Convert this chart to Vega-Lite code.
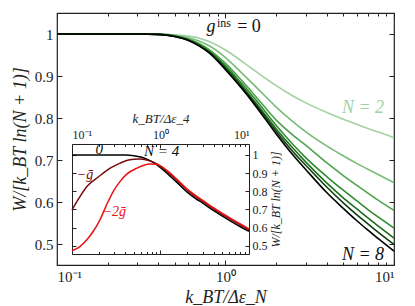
{
  "$schema": "https://vega.github.io/schema/vega-lite/v6.json",
  "width": 337,
  "height": 252,
  "autosize": "none",
  "padding": {"left": 57, "top": 13, "right": 21, "bottom": 41},
  "background": "white",
  "config": {
    "view": {"stroke": "#222", "strokeWidth": 1.2},
    "font": "Liberation Serif",
    "text": {"font": "Liberation Serif"},
    "axis": {"domainColor": "#222", "tickColor": "#222", "labelColor": "#222", "titleColor": "#222", "labelFont": "Liberation Serif", "titleFont": "Liberation Serif", "titleFontWeight": "normal", "grid": false, "tickWidth": 1}
  },
  "datasets": {
    "main": [
      {"N":"2","x":0.1,"w":1},{"N":"2","x":0.2,"w":1},{"N":"2","x":0.3,"w":1},{"N":"2","x":0.4,"w":1},{"N":"2","x":0.5,"w":0.998},{"N":"2","x":0.6,"w":0.995},{"N":"2","x":0.7,"w":0.99},{"N":"2","x":0.8,"w":0.982},{"N":"2","x":1,"w":0.962},{"N":"2","x":1.25,"w":0.935},{"N":"2","x":1.5,"w":0.912},{"N":"2","x":2,"w":0.877},{"N":"2","x":2.5,"w":0.853},{"N":"2","x":3,"w":0.836},{"N":"2","x":4,"w":0.813},{"N":"2","x":5,"w":0.797},{"N":"2","x":6,"w":0.785},{"N":"2","x":7,"w":0.775},{"N":"2","x":8,"w":0.767},{"N":"2","x":10,"w":0.753},
      {"N":"3","x":0.1,"w":1},{"N":"3","x":0.2,"w":1},{"N":"3","x":0.3,"w":1},{"N":"3","x":0.4,"w":0.9995},{"N":"3","x":0.5,"w":0.997},{"N":"3","x":0.6,"w":0.991},{"N":"3","x":0.7,"w":0.983},{"N":"3","x":0.8,"w":0.972},{"N":"3","x":1,"w":0.944},{"N":"3","x":1.25,"w":0.907},{"N":"3","x":1.5,"w":0.876},{"N":"3","x":2,"w":0.826},{"N":"3","x":2.5,"w":0.792},{"N":"3","x":3,"w":0.767},{"N":"3","x":4,"w":0.733},{"N":"3","x":5,"w":0.71},{"N":"3","x":6,"w":0.692},{"N":"3","x":7,"w":0.678},{"N":"3","x":8,"w":0.666},{"N":"3","x":10,"w":0.646},
      {"N":"4","x":0.1,"w":1},{"N":"4","x":0.2,"w":1},{"N":"4","x":0.3,"w":1},{"N":"4","x":0.4,"w":0.999},{"N":"4","x":0.5,"w":0.995},{"N":"4","x":0.6,"w":0.988},{"N":"4","x":0.7,"w":0.977},{"N":"4","x":0.8,"w":0.963},{"N":"4","x":1,"w":0.93},{"N":"4","x":1.25,"w":0.889},{"N":"4","x":1.5,"w":0.853},{"N":"4","x":2,"w":0.795},{"N":"4","x":2.5,"w":0.76},{"N":"4","x":3,"w":0.735},{"N":"4","x":4,"w":0.693},{"N":"4","x":5,"w":0.663},{"N":"4","x":6,"w":0.64},{"N":"4","x":7,"w":0.621},{"N":"4","x":8,"w":0.605},{"N":"4","x":10,"w":0.58},
      {"N":"5","x":0.1,"w":1},{"N":"5","x":0.2,"w":1},{"N":"5","x":0.3,"w":1},{"N":"5","x":0.4,"w":0.999},{"N":"5","x":0.5,"w":0.995},{"N":"5","x":0.6,"w":0.987},{"N":"5","x":0.7,"w":0.975},{"N":"5","x":0.8,"w":0.96},{"N":"5","x":1,"w":0.925},{"N":"5","x":1.25,"w":0.882},{"N":"5","x":1.5,"w":0.845},{"N":"5","x":2,"w":0.782},{"N":"5","x":2.5,"w":0.738},{"N":"5","x":3,"w":0.705},{"N":"5","x":4,"w":0.66},{"N":"5","x":5,"w":0.628},{"N":"5","x":6,"w":0.603},{"N":"5","x":7,"w":0.582},{"N":"5","x":8,"w":0.565},{"N":"5","x":10,"w":0.538},
      {"N":"6","x":0.1,"w":1},{"N":"6","x":0.2,"w":1},{"N":"6","x":0.3,"w":1},{"N":"6","x":0.4,"w":0.999},{"N":"6","x":0.5,"w":0.995},{"N":"6","x":0.6,"w":0.986},{"N":"6","x":0.7,"w":0.973},{"N":"6","x":0.8,"w":0.958},{"N":"6","x":1,"w":0.921},{"N":"6","x":1.25,"w":0.877},{"N":"6","x":1.5,"w":0.838},{"N":"6","x":2,"w":0.774},{"N":"6","x":2.5,"w":0.729},{"N":"6","x":3,"w":0.695},{"N":"6","x":4,"w":0.645},{"N":"6","x":5,"w":0.61},{"N":"6","x":6,"w":0.584},{"N":"6","x":7,"w":0.562},{"N":"6","x":8,"w":0.544},{"N":"6","x":10,"w":0.514},
      {"N":"7","x":0.1,"w":1},{"N":"7","x":0.2,"w":1},{"N":"7","x":0.3,"w":1},{"N":"7","x":0.4,"w":0.999},{"N":"7","x":0.5,"w":0.994},{"N":"7","x":0.6,"w":0.985},{"N":"7","x":0.7,"w":0.972},{"N":"7","x":0.8,"w":0.956},{"N":"7","x":1,"w":0.918},{"N":"7","x":1.25,"w":0.873},{"N":"7","x":1.5,"w":0.834},{"N":"7","x":2,"w":0.768},{"N":"7","x":2.5,"w":0.721},{"N":"7","x":3,"w":0.687},{"N":"7","x":4,"w":0.635},{"N":"7","x":5,"w":0.598},{"N":"7","x":6,"w":0.57},{"N":"7","x":7,"w":0.548},{"N":"7","x":8,"w":0.529},{"N":"7","x":10,"w":0.499},
      {"N":"8","x":0.1,"w":1},{"N":"8","x":0.2,"w":1},{"N":"8","x":0.3,"w":1},{"N":"8","x":0.4,"w":0.999},{"N":"8","x":0.5,"w":0.994},{"N":"8","x":0.6,"w":0.985},{"N":"8","x":0.7,"w":0.971},{"N":"8","x":0.8,"w":0.955},{"N":"8","x":1,"w":0.915},{"N":"8","x":1.25,"w":0.87},{"N":"8","x":1.5,"w":0.83},{"N":"8","x":2,"w":0.762},{"N":"8","x":2.5,"w":0.713},{"N":"8","x":3,"w":0.677},{"N":"8","x":4,"w":0.622},{"N":"8","x":5,"w":0.585},{"N":"8","x":6,"w":0.556},{"N":"8","x":7,"w":0.533},{"N":"8","x":8,"w":0.514},{"N":"8","x":10,"w":0.483}
    ],
    "inset": [
      {"g":"0","x":0.1,"w":1},{"g":"0","x":0.2,"w":1},{"g":"0","x":0.3,"w":1},{"g":"0","x":0.4,"w":0.999},{"g":"0","x":0.5,"w":0.995},{"g":"0","x":0.6,"w":0.988},{"g":"0","x":0.7,"w":0.977},{"g":"0","x":0.8,"w":0.963},{"g":"0","x":1,"w":0.93},{"g":"0","x":1.25,"w":0.889},{"g":"0","x":1.5,"w":0.853},{"g":"0","x":2,"w":0.795},{"g":"0","x":2.5,"w":0.76},{"g":"0","x":3,"w":0.735},{"g":"0","x":4,"w":0.693},{"g":"0","x":5,"w":0.663},{"g":"0","x":6,"w":0.64},{"g":"0","x":7,"w":0.621},{"g":"0","x":8,"w":0.605},{"g":"0","x":10,"w":0.58},
      {"g":"-1","x":0.1,"w":0.698},{"g":"-1","x":0.123,"w":0.771},{"g":"-1","x":0.15,"w":0.83},{"g":"-1","x":0.2,"w":0.88},{"g":"-1","x":0.27,"w":0.927},{"g":"-1","x":0.35,"w":0.955},{"g":"-1","x":0.415,"w":0.969},{"g":"-1","x":0.5,"w":0.976},{"g":"-1","x":0.586,"w":0.978},{"g":"-1","x":0.7,"w":0.972},{"g":"-1","x":0.83,"w":0.96},{"g":"-1","x":1,"w":0.938},{"g":"-1","x":1.25,"w":0.9},{"g":"-1","x":1.5,"w":0.864},{"g":"-1","x":2,"w":0.806},{"g":"-1","x":2.5,"w":0.77},{"g":"-1","x":3,"w":0.744},{"g":"-1","x":4,"w":0.702},{"g":"-1","x":5,"w":0.672},{"g":"-1","x":6,"w":0.649},{"g":"-1","x":7,"w":0.63},{"g":"-1","x":8,"w":0.614},{"g":"-1","x":10,"w":0.588},
      {"g":"-2","x":0.1,"w":0.473},{"g":"-2","x":0.123,"w":0.496},{"g":"-2","x":0.147,"w":0.533},{"g":"-2","x":0.174,"w":0.58},{"g":"-2","x":0.207,"w":0.643},{"g":"-2","x":0.246,"w":0.725},{"g":"-2","x":0.293,"w":0.8},{"g":"-2","x":0.348,"w":0.853},{"g":"-2","x":0.415,"w":0.894},{"g":"-2","x":0.54,"w":0.927},{"g":"-2","x":0.76,"w":0.95},{"g":"-2","x":0.9,"w":0.948},{"g":"-2","x":1,"w":0.94},{"g":"-2","x":1.25,"w":0.905},{"g":"-2","x":1.5,"w":0.87},{"g":"-2","x":2,"w":0.812},{"g":"-2","x":2.5,"w":0.776},{"g":"-2","x":3,"w":0.75},{"g":"-2","x":4,"w":0.708},{"g":"-2","x":5,"w":0.678},{"g":"-2","x":6,"w":0.655},{"g":"-2","x":7,"w":0.636},{"g":"-2","x":8,"w":0.62},{"g":"-2","x":10,"w":0.593}
    ],
    "notesBig": [
      {"label":"g","x":0.82,"w":1.016},
      {"label":"N = 8","x":6.55,"w":0.4745}
    ],
    "notesUpright": [
      {"label":"= 0","x":1.379,"w":1.016}
    ],
    "notesSup": [
      {"label":"ins","x":0.98,"w":1.027}
    ],
    "notesGreen": [
      {"label":"N = 2","x":6.55,"w":0.825}
    ],
    "insetBlack": [
      {"label":"0","x":0.203,"w":1.033},
      {"label":"N = 4","x":1.03,"w":1.024}
    ],
    "insetDark": [
      {"label":"−ḡ","x":0.14,"w":0.89}
    ],
    "insetRed": [
      {"label":"−2ḡ","x":0.3,"w":0.688}
    ]
  },
  "resolve": {
    "scale": {"x": "independent", "y": "independent", "color": "independent"},
    "axis": {"x": "independent", "y": "independent"}
  },
  "layer": [
    {
      "data": {"name": "main"},
      "mark": {"type": "line", "strokeWidth": 1.6, "interpolate": "monotone"},
      "encoding": {
        "x": {"field": "x", "type": "quantitative", "scale": {"type": "log", "domain": [0.1, 10], "nice": false},
          "axis": {"orient": "bottom", "values": [0.1, 1, 10], "labelExpr": "datum.value < 0.5 ? '10⁻¹' : datum.value < 5 ? '10⁰' : '10¹'", "tickSize": -5, "labelPadding": 9, "labelFontSize": 15, "title": "k_BT/Δε_N", "titleFontSize": 18, "titleFontStyle": "italic", "titlePadding": 4, "domain": false}},
        "y": {"field": "w", "type": "quantitative", "scale": {"domain": [0.45, 1.05], "nice": false, "zero": false},
          "axis": {"orient": "left", "values": [0.5, 0.6, 0.7, 0.8, 0.9, 1], "format": ".1~f", "tickSize": -5, "labelPadding": 9, "labelFontSize": 15, "title": "W/[k_BT ln(N + 1)]", "titleFontSize": 18, "titleFontStyle": "italic", "titlePadding": 5, "domain": false}},
        "color": {"field": "N", "type": "nominal", "scale": {"domain": ["2","3","4","5","6","7","8"], "range": ["#a3d1a3","#78bc78","#4fa34f","#2f8c2f","#1d6e1d","#0f400f","#000000"]}, "legend": null}
      }
    },
    {
      "data": {"name": "main"},
      "mark": {"type": "line", "opacity": 0},
      "encoding": {
        "x": {"field": "x", "type": "quantitative", "scale": {"type": "log", "domain": [0.1, 10], "nice": false},
          "axis": {"orient": "top", "values": [0.1, 1, 10], "labels": false, "tickSize": -5, "title": null, "domain": false}},
        "y": {"field": "w", "type": "quantitative", "scale": {"domain": [0.45, 1.05], "nice": false, "zero": false},
          "axis": {"orient": "right", "values": [0.5, 0.6, 0.7, 0.8, 0.9, 1], "labels": false, "tickSize": -5, "title": null, "domain": false}},
        "detail": {"field": "N"}
      }
    },
    {
      "data": {"name": "main"},
      "mark": {"type": "line", "opacity": 0},
      "encoding": {
        "x": {"field": "x", "type": "quantitative", "scale": {"type": "log", "domain": [0.1, 10], "nice": false},
          "axis": {"orient": "bottom", "values": [0.2,0.3,0.4,0.5,0.6,0.7,0.8,0.9,2,3,4,5,6,7,8,9], "labels": false, "tickSize": -3, "title": null, "domain": false}},
        "y": {"field": "w", "type": "quantitative", "scale": {"domain": [0.45, 1.05], "nice": false, "zero": false}, "axis": null},
        "detail": {"field": "N"}
      }
    },
    {
      "data": {"name": "main"},
      "mark": {"type": "line", "opacity": 0},
      "encoding": {
        "x": {"field": "x", "type": "quantitative", "scale": {"type": "log", "domain": [0.1, 10], "nice": false},
          "axis": {"orient": "top", "values": [0.2,0.3,0.4,0.5,0.6,0.7,0.8,0.9,2,3,4,5,6,7,8,9], "labels": false, "tickSize": -3, "title": null, "domain": false}},
        "y": {"field": "w", "type": "quantitative", "scale": {"domain": [0.45, 1.05], "nice": false, "zero": false}, "axis": null},
        "detail": {"field": "N"}
      }
    },
    {
      "data": {"name": "notesBig"},
      "mark": {"type": "text", "fontSize": 18, "fontStyle": "italic", "color": "#111"},
      "encoding": {
        "x": {"field": "x", "type": "quantitative", "scale": {"type": "log", "domain": [0.1, 10], "nice": false}, "axis": null},
        "y": {"field": "w", "type": "quantitative", "scale": {"domain": [0.45, 1.05], "nice": false, "zero": false}, "axis": null},
        "text": {"field": "label"}
      }
    },
    {
      "data": {"name": "notesUpright"},
      "mark": {"type": "text", "fontSize": 18, "color": "#111"},
      "encoding": {
        "x": {"field": "x", "type": "quantitative", "scale": {"type": "log", "domain": [0.1, 10], "nice": false}, "axis": null},
        "y": {"field": "w", "type": "quantitative", "scale": {"domain": [0.45, 1.05], "nice": false, "zero": false}, "axis": null},
        "text": {"field": "label"}
      }
    },
    {
      "data": {"name": "notesSup"},
      "mark": {"type": "text", "fontSize": 12, "color": "#111"},
      "encoding": {
        "x": {"field": "x", "type": "quantitative", "scale": {"type": "log", "domain": [0.1, 10], "nice": false}, "axis": null},
        "y": {"field": "w", "type": "quantitative", "scale": {"domain": [0.45, 1.05], "nice": false, "zero": false}, "axis": null},
        "text": {"field": "label"}
      }
    },
    {
      "data": {"name": "notesGreen"},
      "mark": {"type": "text", "fontSize": 18, "fontStyle": "italic", "color": "#a3d1a3"},
      "encoding": {
        "x": {"field": "x", "type": "quantitative", "scale": {"type": "log", "domain": [0.1, 10], "nice": false}, "axis": null},
        "y": {"field": "w", "type": "quantitative", "scale": {"domain": [0.45, 1.05], "nice": false, "zero": false}, "axis": null},
        "text": {"field": "label"}
      }
    },
    {
      "data": {"name": "inset"},
      "mark": {"type": "line", "strokeWidth": 1.5, "interpolate": "monotone"},
      "encoding": {
        "x": {"field": "x", "type": "quantitative", "scale": {"type": "log", "domain": [0.1, 10], "nice": false, "range": [15, 192]},
          "axis": {"orient": "top", "offset": -131, "values": [0.1, 1, 10], "labelExpr": "datum.value < 0.5 ? '10⁻¹' : datum.value < 5 ? '10⁰' : '10¹'", "tickSize": -4, "labelPadding": 7, "labelFontSize": 12, "title": "k_BT/Δε_4", "titleFontSize": 13, "titleFontStyle": "italic", "titlePadding": 3, "domain": true}},
        "y": {"field": "w", "type": "quantitative", "scale": {"domain": [0.455, 1.06], "nice": false, "zero": false, "range": [241, 131]},
          "axis": {"orient": "right", "offset": -145, "values": [0.5, 0.6, 0.7, 0.8, 0.9, 1], "format": ".1~f", "tickSize": -4, "labelPadding": 7, "labelFontSize": 12, "title": "W/[k_BT ln(N + 1)]", "titleFontSize": 12, "titleFontStyle": "italic", "titleAngle": 270, "titleBaseline": "top", "titlePadding": 3, "domain": true}},
        "color": {"field": "g", "type": "nominal", "scale": {"domain": ["0","-1","-2"], "range": ["#000000","#7a0a0a","#ee1111"]}, "legend": null}
      }
    },
    {
      "data": {"name": "inset"},
      "mark": {"type": "line", "opacity": 0},
      "encoding": {
        "x": {"field": "x", "type": "quantitative", "scale": {"type": "log", "domain": [0.1, 10], "nice": false, "range": [15, 192]},
          "axis": {"orient": "bottom", "offset": -11, "values": [0.1, 1, 10], "labels": false, "tickSize": -4, "title": null, "domain": true}},
        "y": {"field": "w", "type": "quantitative", "scale": {"domain": [0.455, 1.06], "nice": false, "zero": false, "range": [241, 131]},
          "axis": {"orient": "left", "offset": -15, "values": [0.5, 0.6, 0.7, 0.8, 0.9, 1], "labels": false, "tickSize": -4, "title": null, "domain": true}},
        "detail": {"field": "g"}
      }
    },
    {
      "data": {"name": "inset"},
      "mark": {"type": "line", "opacity": 0},
      "encoding": {
        "x": {"field": "x", "type": "quantitative", "scale": {"type": "log", "domain": [0.1, 10], "nice": false, "range": [15, 192]},
          "axis": {"orient": "top", "offset": -131, "values": [0.2,0.3,0.4,0.5,0.6,0.7,0.8,0.9,2,3,4,5,6,7,8,9], "labels": false, "tickSize": -2.5, "title": null, "domain": false}},
        "y": {"field": "w", "type": "quantitative", "scale": {"domain": [0.455, 1.06], "nice": false, "zero": false, "range": [241, 131]}, "axis": null},
        "detail": {"field": "g"}
      }
    },
    {
      "data": {"name": "inset"},
      "mark": {"type": "line", "opacity": 0},
      "encoding": {
        "x": {"field": "x", "type": "quantitative", "scale": {"type": "log", "domain": [0.1, 10], "nice": false, "range": [15, 192]},
          "axis": {"orient": "bottom", "offset": -11, "values": [0.2,0.3,0.4,0.5,0.6,0.7,0.8,0.9,2,3,4,5,6,7,8,9], "labels": false, "tickSize": -2.5, "title": null, "domain": false}},
        "y": {"field": "w", "type": "quantitative", "scale": {"domain": [0.455, 1.06], "nice": false, "zero": false, "range": [241, 131]}, "axis": null},
        "detail": {"field": "g"}
      }
    },
    {
      "data": {"name": "insetBlack"},
      "mark": {"type": "text", "fontSize": 15, "fontStyle": "italic", "color": "#111"},
      "encoding": {
        "x": {"field": "x", "type": "quantitative", "scale": {"type": "log", "domain": [0.1, 10], "nice": false, "range": [15, 192]}, "axis": null},
        "y": {"field": "w", "type": "quantitative", "scale": {"domain": [0.455, 1.06], "nice": false, "zero": false, "range": [241, 131]}, "axis": null},
        "text": {"field": "label"}
      }
    },
    {
      "data": {"name": "insetDark"},
      "mark": {"type": "text", "fontSize": 14, "fontStyle": "italic", "color": "#7a0a0a"},
      "encoding": {
        "x": {"field": "x", "type": "quantitative", "scale": {"type": "log", "domain": [0.1, 10], "nice": false, "range": [15, 192]}, "axis": null},
        "y": {"field": "w", "type": "quantitative", "scale": {"domain": [0.455, 1.06], "nice": false, "zero": false, "range": [241, 131]}, "axis": null},
        "text": {"field": "label"}
      }
    },
    {
      "data": {"name": "insetRed"},
      "mark": {"type": "text", "fontSize": 14, "fontStyle": "italic", "color": "#ee1111"},
      "encoding": {
        "x": {"field": "x", "type": "quantitative", "scale": {"type": "log", "domain": [0.1, 10], "nice": false, "range": [15, 192]}, "axis": null},
        "y": {"field": "w", "type": "quantitative", "scale": {"domain": [0.455, 1.06], "nice": false, "zero": false, "range": [241, 131]}, "axis": null},
        "text": {"field": "label"}
      }
    }
  ]
}
